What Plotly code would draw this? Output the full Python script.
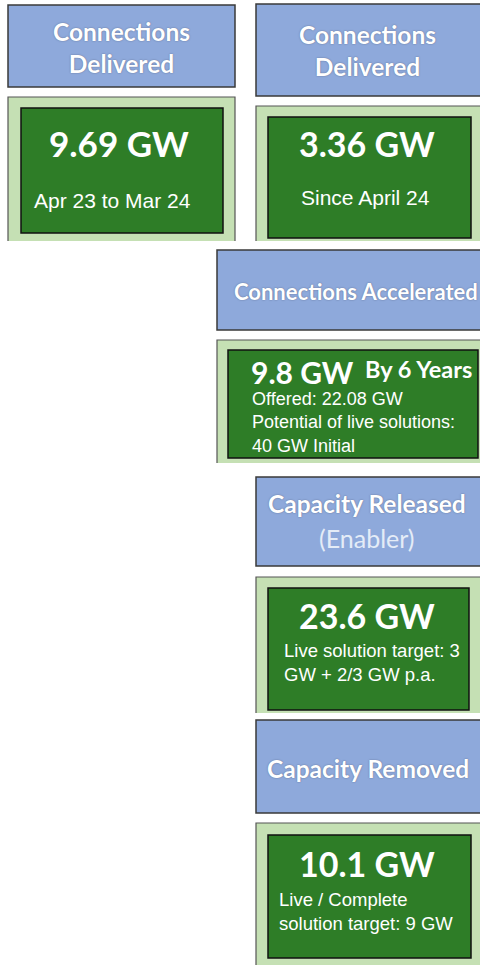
import plotly.graph_objects as go

# ---- data ----
headers = ["Connections<br>Delivered", "Connections<br>Delivered", "Connections Accelerated",
           "Capacity Released", "Capacity Removed"]
values_gw = [9.69, 3.36, 9.8, 23.6, 10.1]
value_labels = ["9.69", "3.36", "9.8", "23.6", "10.1"]
sub_texts = ["Apr 23 to Mar 24", "Since April 24",
             "Offered: 22.08 GW<br>Potential of live solutions:<br>40 GW Initial",
             "Live solution target: 3<br>GW + 2/3 GW p.a.",
             "Live / Complete<br>solution target: 9 GW"]
extra_note = "By 6 Years"
header_note = "(Enabler)"

# ---- styles ----
HEAD_FILL = "#8EA9DB"
HEAD_LINE = "#3A3A3A"
OUTER_FILL = "#C5E0B4"
OUTER_LINE = "#555555"
INNER_FILL = "#2E7D27"
INNER_LINE = "#111111"
HFONT = "Lato"
BFONT = "Liberation Sans, Arial"
SHADOW = "0px 0px 1.5px rgba(40,40,60,0.55)"

W, H = 480, 965

# panel geometry: header box, outer box, inner box (x0, y0, x1, y1)
panels = [
    dict(head=(8, 5, 235, 87), outer=(8, 97, 235, 241), inner=(21, 108, 223, 233)),
    dict(head=(256, 4, 481, 96), outer=(256, 106, 481, 241), inner=(268, 117, 471, 238)),
    dict(head=(217, 250, 481, 330), outer=(217, 340, 481, 463), inner=(228, 350, 478, 458)),
    dict(head=(256, 477, 481, 566), outer=(256, 577, 481, 713), inner=(268, 588, 469, 710)),
    dict(head=(256, 720, 481, 813), outer=(256, 823, 481, 968), inner=(268, 835, 471, 958)),
]

fig = go.Figure()
shapes = []
annotations = []

def rect(b, fill, line, lw):
    shapes.append(dict(type="rect", xref="x", yref="y", x0=b[0], y0=b[1], x1=b[2], y1=b[3],
                       fillcolor=fill, line=dict(color=line, width=lw), layer="below"))

def open_box(b, fill, line, lw):
    # filled box whose bottom edge is cut off (no bottom border)
    shapes.append(dict(type="rect", xref="x", yref="y", x0=b[0], y0=b[1], x1=b[2], y1=b[3],
                       fillcolor=fill, line=dict(width=0), layer="below"))
    shapes.append(dict(type="path", xref="x", yref="y",
                       path=f"M {b[0]},{b[3]} L {b[0]},{b[1]} L {b[2]},{b[1]} L {b[2]},{b[3]}",
                       line=dict(color=line, width=lw), layer="below"))

def text(x, y, t, size, fam, color="white", xa="center", ya="middle", align="center",
         bold=False, shadow="none"):
    annotations.append(dict(x=x, y=y, xref="x", yref="y", text=(f"<b>{t}</b>" if bold else t),
                            showarrow=False, xanchor=xa, yanchor=ya, align=align,
                            font=dict(size=size, family=fam, color=color, shadow=shadow)))

for p in panels:
    rect(p["head"], HEAD_FILL, HEAD_LINE, 1.5)
    open_box(p["outer"], OUTER_FILL, OUTER_LINE, 1.2)
    rect(p["inner"], INNER_FILL, INNER_LINE, 1.5)

# Panel 1
text(121, 47, headers[0], 24.5, HFONT, bold=True, shadow=SHADOW)
text(119, 143, f"{value_labels[0]} GW", 35, HFONT, bold=True)
text(32, 200, sub_texts[0], 21, BFONT, xa="left", align="left")
# Panel 2
text(367, 50, headers[1], 24.5, HFONT, bold=True, shadow=SHADOW)
text(367, 143, f"{value_labels[1]} GW", 34, HFONT, bold=True)
text(365, 197, sub_texts[1], 21, BFONT)
# Panel 3
text(356, 291, headers[2], 22, HFONT, bold=True, shadow=SHADOW)
text(249, 372, f"{value_labels[2]} GW", 30, HFONT, xa="left", bold=True)
text(363, 369, extra_note, 23.5, HFONT, xa="left", bold=True)
text(250, 422, sub_texts[2], 18, BFONT, xa="left", align="left")
# Panel 4
text(367, 503, headers[3], 24.5, HFONT, bold=True, shadow=SHADOW)
text(367, 538, header_note, 25, HFONT, color="#E4ECF7")
text(367, 615, f"{value_labels[3]} GW", 34, HFONT, bold=True)
text(282, 662, sub_texts[3], 18.5, BFONT, xa="left", align="left")
# Panel 5
text(368, 768, headers[4], 24.5, HFONT, bold=True, shadow=SHADOW)
text(367, 863, f"{value_labels[4]} GW", 34, HFONT, bold=True)
text(277, 911, sub_texts[4], 18.5, BFONT, xa="left", align="left")

fig.update_layout(
    width=W, height=H,
    margin=dict(l=0, r=0, t=0, b=0),
    paper_bgcolor="white", plot_bgcolor="white",
    xaxis=dict(range=[0, W], visible=False, fixedrange=True),
    yaxis=dict(range=[H, 0], visible=False, fixedrange=True),
    shapes=shapes, annotations=annotations, showlegend=False,
)
fig.write_html("out.html", config=dict(displayModeBar=False),
               post_script="document.body.style.margin='0';document.body.style.overflow='hidden';")
